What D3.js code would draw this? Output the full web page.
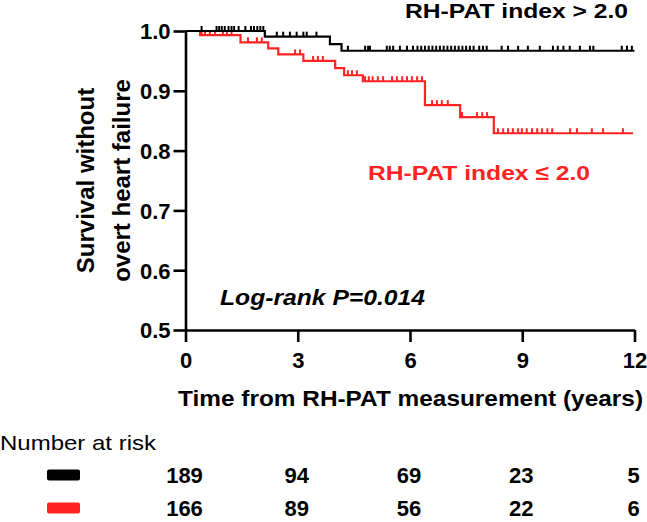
<!DOCTYPE html>
<html><head><meta charset="utf-8">
<script src="https://cdn.jsdelivr.net/npm/d3@7"></script>
<style>body{margin:0;background:#fff}svg{display:block}text{font-family:"Liberation Sans",Arial,sans-serif}</style>
</head><body>
<svg id="c" width="647" height="522"></svg>
<script>
const timeTicks = [0, 3, 6, 9, 12];
const survTicks = [0.5, 0.6, 0.7, 0.8, 0.9, 1.0];

// RH-PAT index > 2.0 (black): event step times and survival after each step
const highStepTimes = [0, 2.12, 3.86, 4.17];
const highStepSurv  = [1.0, 0.9905, 0.978, 0.967];
const highEnd = 12.0;
const highCensor = [0.43, 0.83, 0.9, 0.97, 1.05, 1.15, 1.23, 1.3, 1.42, 1.6, 1.75, 1.83, 1.92, 2.0, 2.08,
  2.44, 2.61, 2.79, 2.97, 3.15, 3.24, 3.5, 4.34, 4.8, 4.88, 4.93, 5.38, 5.46, 5.55, 5.73, 5.92,
  6.08, 6.2, 6.3, 6.4, 6.5, 6.6, 6.7, 6.8, 6.9, 7.0, 7.1, 7.2, 7.3, 7.4, 7.5, 7.6, 7.7, 7.85, 7.95, 8.05,
  8.45, 8.62, 8.89, 9.15, 9.47, 9.82, 9.95, 10.1, 10.27, 10.54, 10.81, 10.9, 11.66, 11.8, 11.93];

// RH-PAT index <= 2.0 (red)
const lowStepTimes = [0, 0.39, 1.47, 2.21, 2.48, 3.15, 4.0, 4.24, 4.74, 6.40, 7.34, 8.24];
const lowStepSurv  = [1.0, 0.993, 0.981, 0.971, 0.961, 0.950, 0.938, 0.926, 0.916, 0.876, 0.856, 0.829];
const lowEnd = 11.96;
const lowCensor = [0.43, 0.52, 0.65, 0.79, 1.0, 1.11, 1.23, 1.67, 1.91, 2.04, 2.93, 3.06, 3.41, 3.54, 3.67,
  4.34, 4.45, 4.58, 4.8, 4.9, 5.0, 5.14, 5.28, 5.52, 5.65, 5.79, 5.92, 6.05, 6.19, 6.32,
  6.59, 6.72, 6.85, 7.01, 7.39, 7.79, 7.93, 8.06,
  8.35, 8.49, 8.62, 8.75, 8.89, 8.99, 9.12, 9.26, 9.4, 9.53, 9.67, 9.8, 10.28, 10.46, 10.86, 11.16, 11.69];

const riskTimes = [0, 3, 6, 9, 12];
const riskHigh = [189, 94, 69, 23, 5];
const riskLow  = [166, 89, 56, 22, 6];

const BLACK = "#000000", RED = "#ff2323";

const svg = d3.select("#c");
const x = d3.scaleLinear().domain([0, 12]).range([185.5, 634.5]);
const y = d3.scaleLinear().domain([0.5, 1.0]).range([330, 31]);

function stepPoints(times, surv, end) {
  const pts = [];
  for (let i = 0; i < times.length; i++) {
    if (i > 0) pts.push([times[i], surv[i - 1]]);
    pts.push([times[i], surv[i]]);
  }
  pts.push([end, surv[surv.length - 1]]);
  return pts;
}
function survAt(times, surv, t) {
  let s = surv[0];
  for (let i = 0; i < times.length; i++) if (times[i] <= t) s = surv[i];
  return s;
}
const line = d3.line().x(d => x(d[0])).y(d => y(d[1]));

function drawCurve(times, surv, end, censor, color) {
  svg.append("path").attr("d", line(stepPoints(times, surv, end)))
    .attr("fill", "none").attr("stroke", color).attr("stroke-width", 2.2);
  svg.append("g").selectAll("line").data(censor).join("line")
    .attr("x1", d => x(d)).attr("x2", d => x(d))
    .attr("y1", d => y(survAt(times, surv, d)))
    .attr("y2", d => y(survAt(times, surv, d)) - 5)
    .attr("stroke", color).attr("stroke-width", 2);
}
drawCurve(lowStepTimes, lowStepSurv, lowEnd, lowCensor, RED);
drawCurve(highStepTimes, highStepSurv, highEnd, highCensor, BLACK);

// axes
const yAxis = svg.append("g").attr("transform", `translate(${x(0)},0)`)
  .call(d3.axisLeft(y).tickValues(survTicks).tickFormat(d3.format(".1f")).tickSize(12).tickSizeOuter(0).tickPadding(3));
const xAxis = svg.append("g").attr("transform", `translate(0,${y(0.5)})`)
  .call(d3.axisBottom(x).tickValues(timeTicks).tickFormat(d3.format("d")).tickSize(12).tickSizeOuter(0).tickPadding(5));
[yAxis, xAxis].forEach(g => {
  g.selectAll("path,line").attr("stroke", "#000").attr("stroke-width", 2.6);
  g.selectAll("text").attr("fill", "#000").style("font-size", "22px").style("font-weight", "bold");
});
xAxis.selectAll("text").attr("dy", null).attr("y", 38);
yAxis.selectAll("text").attr("dy", "0.36em");

// titles
const yt = svg.append("text").attr("transform", `translate(0,${(y(0.5) + y(1)) / 2}) rotate(-90)`)
  .attr("text-anchor", "middle").style("font-size", "24px").style("font-weight", "bold");
yt.append("tspan").attr("x", 0).attr("y", 94).text("Survival without");
yt.append("tspan").attr("x", 0).attr("y", 130).text("overt heart failure");

svg.append("text").attr("x", 178).attr("y", 406).attr("textLength", 465).attr("lengthAdjust", "spacingAndGlyphs")
  .style("font-size", "22px").style("font-weight", "bold").text("Time from RH-PAT measurement (years)");

svg.append("text").attr("x", 405).attr("y", 18).attr("textLength", 223).attr("lengthAdjust", "spacingAndGlyphs")
  .style("font-size", "21px").style("font-weight", "bold").attr("fill", BLACK).text("RH-PAT index > 2.0");
svg.append("text").attr("x", 368).attr("y", 180).attr("textLength", 222).attr("lengthAdjust", "spacingAndGlyphs")
  .style("font-size", "21px").style("font-weight", "bold").attr("fill", RED).text("RH-PAT index ≤ 2.0");
svg.append("text").attr("x", 220).attr("y", 305).attr("textLength", 205).attr("lengthAdjust", "spacingAndGlyphs")
  .style("font-size", "22px").style("font-weight", "bold").style("font-style", "italic").text("Log-rank P=0.014");

// risk table
svg.append("text").attr("x", 0).attr("y", 450).attr("textLength", 156).attr("lengthAdjust", "spacingAndGlyphs")
  .style("font-size", "21px").text("Number at risk");
const rows = [{vals: riskHigh, color: BLACK, yc: 475}, {vals: riskLow, color: RED, yc: 508}];
rows.forEach(r => {
  svg.append("rect").attr("x", 47).attr("y", r.yc - 5.5).attr("width", 33).attr("height", 11).attr("rx", 2).attr("fill", r.color);
  svg.append("g").selectAll("text").data(r.vals).join("text")
    .attr("x", (d, i) => x(riskTimes[i]) - 1).attr("y", r.yc + 8).attr("text-anchor", "middle")
    .style("font-size", "22px").style("font-weight", "bold").text(d => d);
});
</script>
</body></html>
